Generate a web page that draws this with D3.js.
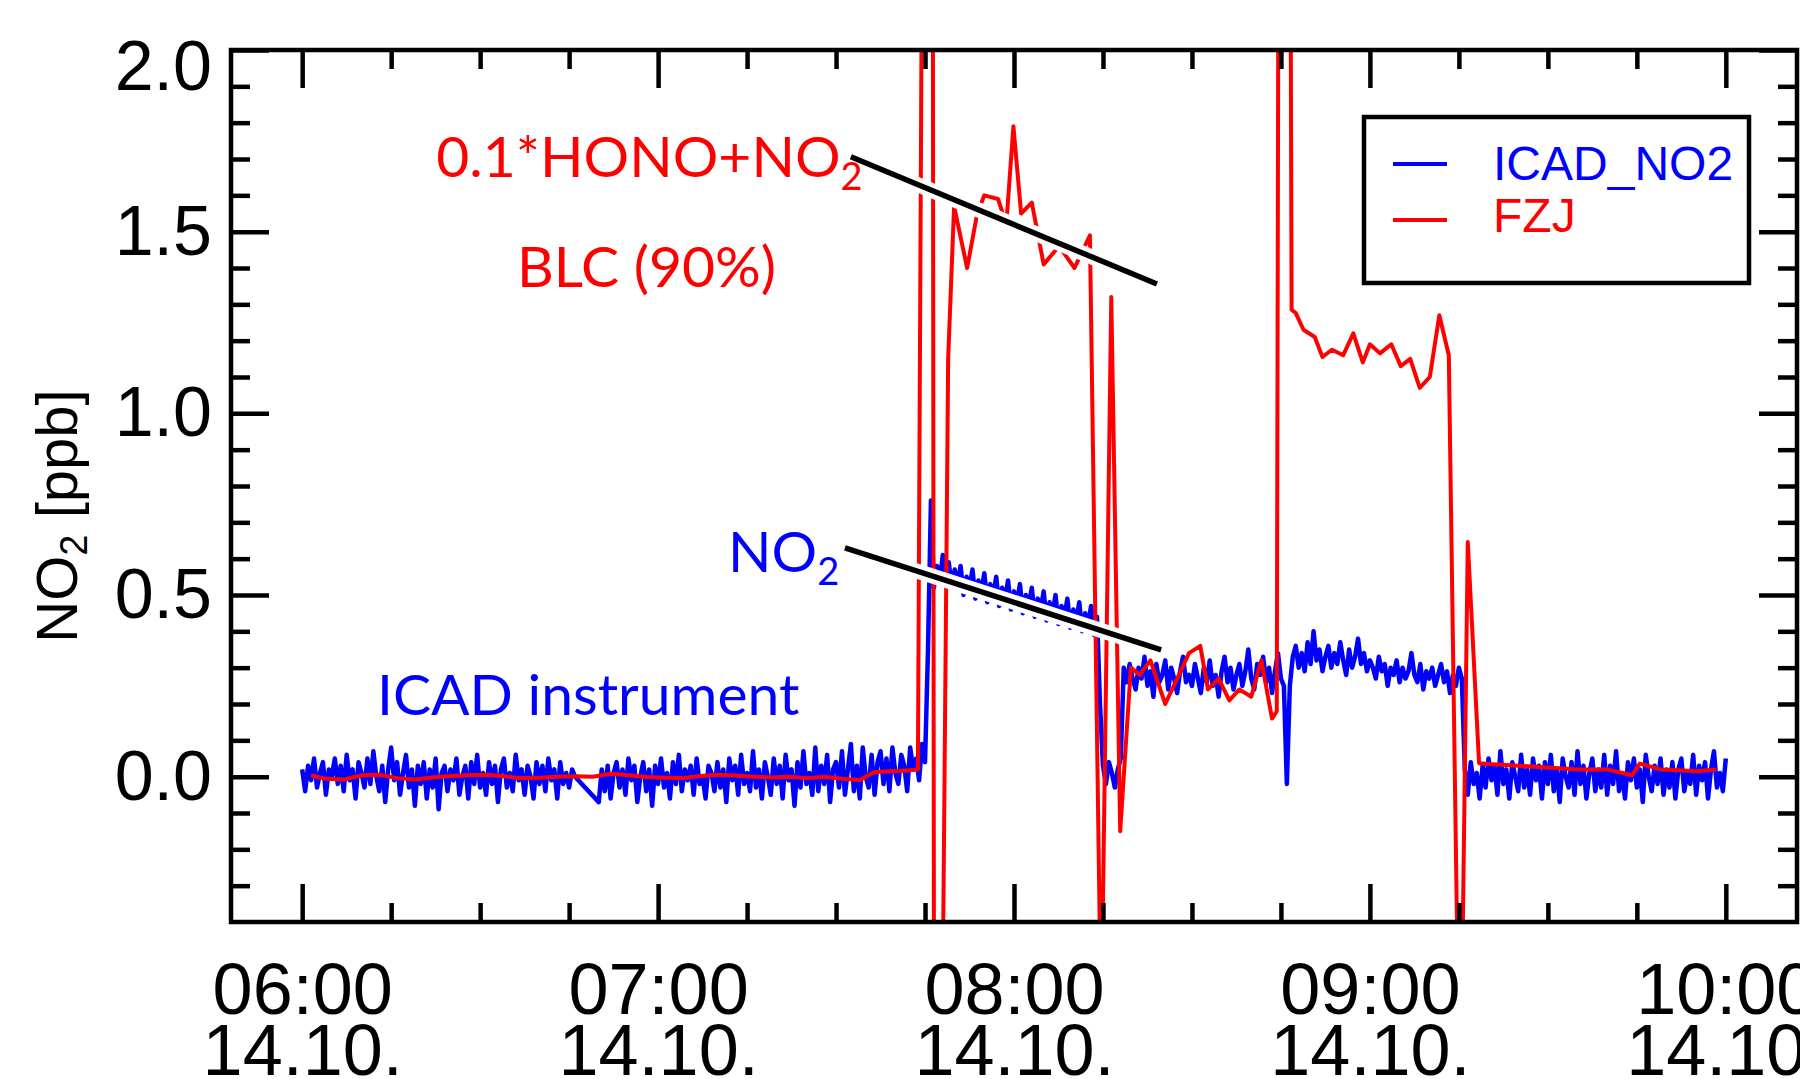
<!DOCTYPE html>
<html>
<head>
<meta charset="utf-8">
<script src="https://cdn.jsdelivr.net/npm/d3@7"></script>
<style>
body { margin: 0; background: #fff; }
</style>
</head>
<body>
<script>
// FZJ reference, minutes after 06:00 and ppb (values off the plot are clipped)
var fzjTime = [1.5, 4, 7, 10, 13, 16, 19, 22, 25, 28, 31, 34, 37, 40, 43, 46, 49, 52, 55, 58,
    61, 64, 67, 70, 73, 76, 79, 82, 85, 88, 91, 94, 96.5, 99, 101.5, 103.8,
    105.0, 106.2, 106.6, 107.5, 108.9, 109.9, 112.1, 113.8, 115.0, 117.3, 118.7, 119.9, 121.2, 123.0,
    125.0, 127.6, 130.2, 132.8, 134.7, 136.4, 137.9, 139.7, 141.2, 143.0, 145.5, 147.5, 149.5, 151.4,
    152.7, 154.5, 156.3, 158.0, 160.0, 161.7, 163.5, 164.3, 164.8, 166.3, 166.8, 167.5, 168.8, 170.7,
    172.0, 173.6, 175.5, 177.2, 178.8, 180.0, 181.7, 183.6, 185.2, 186.8, 188.4, 190.1, 191.7, 193.3,
    195.2, 196.5, 198.4, 200, 205, 210, 215, 220, 224.2, 225.5, 229, 232, 235, 238.4];
var fzjValue = [0.003, -0.006, -0.008, 0.004, 0.005, -0.004, -0.008, -0.002, 0.002, 0.004,
    0.005, 0.001, -0.004, -0.003, 0.0, 0.001, 0.0, 0.008, 0.004, -0.001,
    -0.003, -0.004, 0.002, 0.005, 0.003, 0.0, -0.002, 0.0, -0.004, 0.0,
    -0.006, -0.009, 0.013, 0.015, 0.016, 0.02,
    4.0, 4.0, -2.0, -1.5, 1.15, 1.57, 1.40, 1.55, 1.60, 1.59, 1.52, 1.79, 1.55, 1.58,
    1.41, 1.46, 1.40, 1.49, -0.7, 1.32, -0.15, 0.30, 0.28, 0.32, 0.20, 0.27, 0.34, 0.36,
    0.24, 0.27, 0.21, 0.24, 0.22, 0.32, 0.16, 0.18, 4.0, 4.0, 1.285, 1.276, 1.23, 1.21,
    1.155, 1.175, 1.16, 1.22, 1.14, 1.19, 1.165, 1.19, 1.13, 1.15, 1.07, 1.10, 1.27, 1.16,
    -1.0, 0.646, 0.037, 0.035, 0.03, 0.025, 0.02, 0.02, 0.004, 0.036, 0.02, 0.018, 0.015, 0.02];

// ICAD NO2, 30 s samples; block A from 06:00, block B from 06:50 (gap between)
var icadStep = 0.5;
var icadStartA = 0;
var icadA = [0.02,-0.04,0.03,-0.01,0.05,-0.03,0.01,0.04,-0.05,0.02,0.00,0.05,-0.02,0.03,-0.04,0.06,-0.01,0.02,-0.06,0.04,0.01,
    -0.03,0.05,-0.02,0.07,0.00,-0.04,0.03,-0.07,0.02,0.08,-0.01,0.04,-0.05,0.01,0.06,-0.03,0.02,-0.08,0.03,-0.02,
    0.04,-0.06,0.02,-0.03,0.05,-0.09,0.01,0.03,-0.04,0.02,-0.01,0.05,-0.05,0.00,0.03,-0.06,0.04,-0.02,0.06,-0.03,
    0.01,-0.05,0.04,-0.02,0.03,-0.07,0.02,0.05,-0.03,0.01,-0.04,0.06,-0.01,0.02,-0.05,0.03,0.00,-0.06,0.04,-0.02,
    0.03,-0.04,0.05,-0.01,0.02,-0.06,0.04,-0.02,0.01,-0.03,0.02,0.00];
var icadStartB = 50;
var icadB = [-0.07,0.02,-0.04,0.03,-0.06,0.01,0.04,-0.03,0.02,-0.05,0.05,-0.01,0.03,-0.07,0.00,0.04,-0.04,0.02,-0.08,0.03,-0.02,
    0.05,-0.03,0.01,-0.06,0.04,-0.02,0.06,-0.04,0.02,-0.01,0.03,-0.05,0.05,-0.02,0.00,-0.06,0.03,0.01,-0.04,0.04,
    -0.03,0.02,-0.07,0.05,-0.01,0.03,-0.05,0.06,-0.02,0.01,-0.04,0.07,-0.03,0.02,-0.06,0.04,0.00,-0.05,0.05,-0.02,
    0.03,-0.06,0.06,-0.01,0.02,-0.08,0.04,-0.03,0.07,-0.02,0.01,-0.05,0.08,-0.04,0.03,-0.02,0.06,-0.07,0.02,0.04,
    -0.03,0.07,-0.05,0.02,0.09,-0.04,0.03,-0.06,0.08,0.00,-0.03,0.06,-0.05,0.04,0.07,-0.02,0.05,-0.04,0.08,0.01,
    -0.02,0.06,0.03,-0.04,0.08,0.02,0.05,-0.01,0.09,0.04,
    0.35,0.76,0.52,
    0.58,0.54,0.61,0.55,0.59,0.52,0.57,
    0.53,0.58,0.50,0.55,0.52,0.57,0.49,0.54,0.51,0.56,0.48,0.53,0.50,0.55,0.47,0.52,0.49,0.54,0.46,0.51,
    0.48,0.53,0.45,0.50,0.47,0.52,0.44,0.49,0.46,0.51,0.43,0.48,0.45,0.50,0.42,0.47,0.44,0.49,0.41,0.46,
    0.43,0.48,0.40,0.45,0.42,0.47,0.39,0.44,
    0.20,0.03,-0.02,0.04,0.01,-0.03,0.02,0.05,
    0.30,0.26,0.31,0.27,
    0.24,0.30,0.27,0.33,0.25,0.29,0.22,0.31,0.26,0.28,0.32,0.24,0.30,0.27,0.23,0.29,0.33,0.26,0.28,0.25,
    0.31,0.27,0.23,0.30,0.26,0.32,0.25,0.28,0.22,0.29,0.33,0.26,0.30,0.24,0.28,0.31,0.25,0.29,0.35,0.27,
    0.24,0.31,0.28,0.33,0.26,0.30,0.23,0.29,0.34,0.27,0.25,
    -0.02,
    0.25,0.33,0.36,0.30,0.34,0.29,0.37,0.31,
    0.40,0.32,0.35,0.29,0.33,0.36,0.30,0.34,0.31,0.37,0.32,0.28,0.35,0.30,0.33,0.38,0.31,0.34,0.29,0.32,
    0.30,0.27,0.33,0.29,0.31,0.25,0.30,0.28,0.32,0.26,0.30,0.27,0.29,0.34,0.28,0.26,0.31,0.24,0.29,0.27,
    0.30,0.25,0.28,0.31,0.26,0.29,0.23,0.28,0.25,0.30,0.27,
    0.02,-0.05,0.04,-0.02,0.01,-0.06,0.03,-0.03,0.05,
    -0.01,0.03,-0.05,0.07,-0.02,0.02,-0.06,0.04,0.00,-0.04,0.06,-0.03,0.02,-0.05,0.05,-0.01,0.03,-0.06,0.04,-0.02,
    0.06,-0.04,0.02,-0.07,0.05,0.00,-0.03,0.04,-0.05,0.07,-0.02,0.03,-0.06,0.01,0.05,-0.04,0.02,-0.03,0.06,-0.05,
    0.03,-0.02,0.07,-0.04,0.01,-0.06,0.04,-0.01,0.05,-0.03,0.02,-0.07,0.06,0.00,-0.04,0.03,-0.02,0.05,-0.05,0.02,
    -0.03,0.04,-0.06,0.02,0.05,-0.04,0.01,-0.02,0.06,-0.05,0.03,-0.01,0.04,-0.06,0.02,0.07,-0.03,0.01,-0.04,0.05];

// axis ticks
var hourTicks = [0, 60, 120, 180, 240];      // minutes after 06:00
var quarterTicks = [15, 30, 45, 75, 90, 105, 135, 150, 165, 195, 210, 225];
var yMajor = [0.0, 0.5, 1.0, 1.5, 2.0];
var yMinor = [-0.3, -0.2, -0.1, 0.1, 0.2, 0.3, 0.4, 0.6, 0.7, 0.8, 0.9, 1.1, 1.2, 1.3, 1.4, 1.6, 1.7, 1.8, 1.9];

// annotation lines (time, value)
var honoLine = [[92.5, 1.706], [144.1, 1.356]];
var no2Line = [[91.5, 0.63], [144.8, 0.349]];
var labels = [
    {text: "0.1*HONO+NO", sub: "2", t: 22.6, v: 1.65, color: "#ff0000"},
    {text: "BLC (90%)", sub: "", t: 36.2, v: 1.348, color: "#ff0000"},
    {text: "NO", sub: "2", t: 71.8, v: 0.564, color: "#0000ff"},
    {text: "ICAD instrument", sub: "", t: 12.6, v: 0.17, color: "#0000ff"}
];
var legendNames = ["ICAD_NO2", "FZJ"];
var legendColors = ["#0000ff", "#ff0000"];

var base = new Date(2016, 9, 14, 6, 0);
function toDate(m) { return new Date(base.getTime() + m * 60000); }

var width = 1800, height = 1079;
var mLeft = 231, mTop = 50, w = 1566, h = 872;
var axisFont = "'Liberation Sans', Arial, sans-serif";
var noteFont = "Lato, 'Open Sans', sans-serif";

var svg = d3.select("body").append("svg")
    .attr("width", width)
    .attr("height", height);

var g = svg.append("g").attr("transform", "translate(" + mLeft + "," + mTop + ")");

var x = d3.scaleTime().domain([toDate(-12), toDate(252)]).range([0, w]);
var y = d3.scaleLinear().domain([-0.4, 2.0]).range([h, 0]);

g.append("clipPath").attr("id", "plot-clip")
    .append("rect").attr("width", w).attr("height", h);

var line = d3.line()
    .x(d => x(toDate(d[0])))
    .y(d => y(d[1]));

var icadData = icadA.map((v, i) => [icadStartA + i * icadStep, v])
    .concat(icadB.map((v, i) => [icadStartB + i * icadStep, v]));
var fzjData = d3.zip(fzjTime, fzjValue);

var plot = g.append("g").attr("clip-path", "url(#plot-clip)");

plot.append("path")
    .datum(icadData)
    .attr("fill", "none")
    .attr("stroke", "#0000ff")
    .attr("stroke-width", 4.5)
    .attr("stroke-linejoin", "round")
    .attr("d", line);

plot.append("path")
    .datum(fzjData)
    .attr("fill", "none")
    .attr("stroke", "#ff0000")
    .attr("stroke-width", 4)
    .attr("stroke-linejoin", "round")
    .attr("d", line);

// pointer lines with a white halo
[honoLine, no2Line].forEach(function(pts) {
    g.append("path").datum(pts)
        .attr("stroke", "#fff").attr("stroke-width", 15).attr("d", line);
    g.append("path").datum(pts)
        .attr("stroke", "#000").attr("stroke-width", 5.5).attr("d", line);
});

labels.forEach(function(l) {
    var t = g.append("text")
        .attr("x", x(toDate(l.t)))
        .attr("y", y(l.v))
        .attr("fill", l.color)
        .attr("font-family", noteFont)
        .attr("font-size", 57)
        .text(l.text);
    if (l.sub) {
        t.append("tspan")
            .attr("font-size", 38)
            .attr("dy", 13)
            .text(l.sub);
    }
});

function styleAxis(sel) {
    sel.select(".domain").remove();
    sel.selectAll(".tick line").attr("stroke", "#000").attr("stroke-width", 4.5);
    sel.selectAll("text")
        .attr("font-family", axisFont)
        .attr("font-size", 70)
        .attr("fill", "#000");
}

var hourDates = hourTicks.map(toDate);
var quarterDates = quarterTicks.map(toDate);
var fmtTime = d3.timeFormat("%H:%M");
var fmtDay = d3.timeFormat("%d.%m.");

// bottom: time on the first line, date on the second
var xb = g.append("g").attr("transform", "translate(0," + h + ")")
    .call(d3.axisBottom(x).tickValues(hourDates).tickSize(-38).tickFormat(fmtTime))
    .call(styleAxis);
xb.selectAll(".tick text").each(function(d) {
    var t = d3.select(this);
    t.text(null).attr("y", 92).attr("dy", null).attr("font-size", 72);
    t.append("tspan").attr("x", 0).text(fmtTime(d));
    t.append("tspan").attr("x", 0).attr("dy", 61).text(fmtDay(d));
});
g.append("g").attr("transform", "translate(0," + h + ")")
    .call(d3.axisBottom(x).tickValues(quarterDates).tickSize(-19).tickFormat(""))
    .call(styleAxis);

// top
g.append("g")
    .call(d3.axisTop(x).tickValues(hourDates).tickSize(-38).tickFormat(""))
    .call(styleAxis);
g.append("g")
    .call(d3.axisTop(x).tickValues(quarterDates).tickSize(-19).tickFormat(""))
    .call(styleAxis);

// left
var yl = g.append("g")
    .call(d3.axisLeft(y).tickValues(yMajor).tickSize(-38).tickPadding(19).tickFormat(d3.format(".1f")))
    .call(styleAxis);
yl.selectAll(".tick text").filter(d => d === 2.0).attr("y", 17);
g.append("g")
    .call(d3.axisLeft(y).tickValues(yMinor).tickSize(-19).tickFormat(""))
    .call(styleAxis);

// right
g.append("g").attr("transform", "translate(" + w + ",0)")
    .call(d3.axisRight(y).tickValues(yMajor).tickSize(-38).tickFormat(""))
    .call(styleAxis);
g.append("g").attr("transform", "translate(" + w + ",0)")
    .call(d3.axisRight(y).tickValues(yMinor).tickSize(-19).tickFormat(""))
    .call(styleAxis);

g.append("rect")
    .attr("width", w).attr("height", h)
    .attr("fill", "none").attr("stroke", "#000").attr("stroke-width", 4.5);

// y title
var yt = svg.append("text")
    .attr("transform", "translate(77," + 516 + ") rotate(-90)")
    .attr("text-anchor", "middle")
    .attr("font-family", axisFont)
    .attr("font-size", 58)
    .attr("fill", "#000");
yt.append("tspan").text("NO");
yt.append("tspan").attr("font-size", 38).attr("dy", 10).text("2");
yt.append("tspan").attr("dy", -10).text(" [ppb]");

// legend
var lg = g.append("g").attr("transform", "translate(" + (w - 433) + ",67)");
lg.append("rect")
    .attr("width", 385).attr("height", 166)
    .attr("fill", "#fff").attr("stroke", "#000").attr("stroke-width", 4.5);
legendNames.forEach(function(name, i) {
    lg.append("line")
        .attr("x1", 29).attr("x2", 83)
        .attr("y1", 47 + i * 56).attr("y2", 47 + i * 56)
        .attr("stroke", legendColors[i]).attr("stroke-width", 4);
    lg.append("text")
        .attr("x", 129).attr("y", 63 + i * 52)
        .attr("font-family", axisFont)
        .attr("font-size", 48)
        .attr("fill", legendColors[i])
        .text(name);
});
</script>
</body>
</html>
